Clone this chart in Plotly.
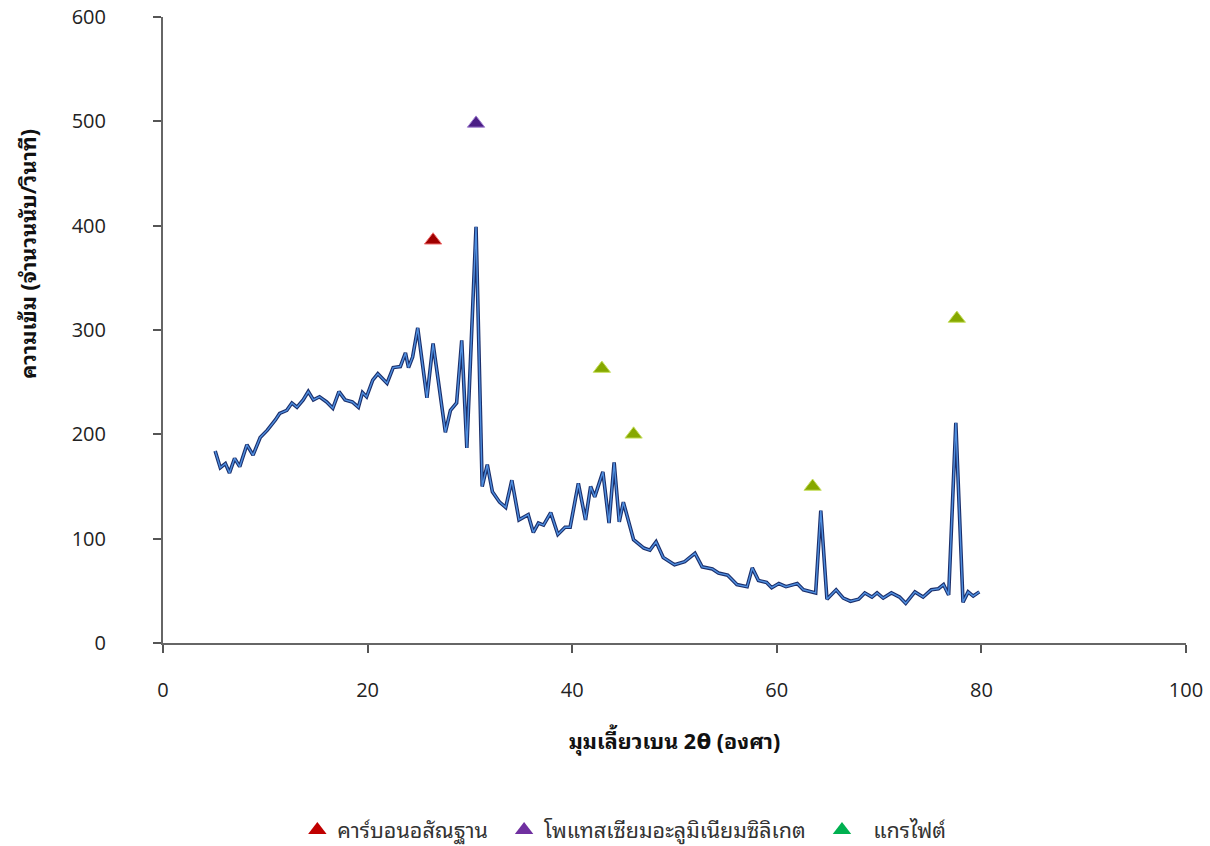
import plotly.graph_objects as go

two_theta = [5.1, 5.6, 6.1, 6.5, 7.0, 7.5, 8.2, 8.8, 9.5, 10.2, 11.0, 11.4, 12.1, 12.6, 13.1, 13.7,
             14.2, 14.7, 15.3, 16.0, 16.6, 17.2, 17.8, 18.5, 19.1, 19.5, 19.9, 20.5, 21.0, 21.9,
             22.5, 23.2, 23.7, 24.0, 24.4, 24.9, 25.8, 26.4, 26.9, 27.6, 28.1, 28.7, 29.2, 29.7,
             30.6, 31.2, 31.7, 32.2, 32.9, 33.5, 34.1, 34.8, 35.7, 36.2, 36.7, 37.2, 37.9, 38.6,
             39.3, 39.8, 40.6, 41.3, 41.8, 42.2, 43.0, 43.6, 44.1, 44.6, 45.0, 45.5, 46.0, 47.0,
             47.6, 48.2, 48.9, 50.0, 51.0, 52.0, 52.7, 53.7, 54.3, 55.2, 56.1, 57.1, 57.6, 58.2,
             59.0, 59.5, 60.2, 60.9, 62.0, 62.6, 63.8, 64.3, 64.9, 65.8, 66.5, 67.2, 68.0, 68.6,
             69.3, 69.8, 70.4, 71.2, 72.0, 72.6, 73.5, 74.3, 75.1, 75.8, 76.3, 76.8, 77.5, 78.2,
             78.7, 79.2, 79.8]
intensity = [184, 168, 172, 163, 177, 169, 190, 180, 197, 204, 214, 220, 223, 230, 226, 233,
             241, 233, 236, 231, 225, 241, 233, 231, 226, 240, 236, 252, 258, 249,
             264, 265, 278, 264, 274, 302, 235, 287, 252, 202, 223, 230, 290, 187,
             399, 150, 171, 145, 135, 130, 156, 118, 123, 106, 115, 113, 125, 104,
             111, 111, 153, 118, 150, 140, 164, 115, 173, 116, 135, 118, 99, 91,
             89, 97, 82, 75, 78, 86, 73, 71, 67, 65, 56, 54, 72, 60,
             58, 53, 57, 54, 57, 51, 48, 127, 42, 51, 43, 40, 42, 48,
             44, 48, 43, 48, 44, 38, 49, 44, 51, 52, 56, 46, 211, 39,
             49, 45, 49]

phase_names = ["คาร์บอนอสัณฐาน", "โพแทสเซียมอะลูมิเนียมซิลิเกต", "แกรไฟต์"]
legend_colors = ["#C00000", "#7030A0", "#00B050"]
plot_colors = ["#A00000", "#4B1E86", "#86A800"]
outline_colors = ["#F07070", "#A080D0", "#C8E060"]
phase_x = [[26.4], [30.6], [42.9, 46.0, 63.5, 77.6]]
phase_y = [[386], [498], [263, 200, 150, 311]]

x_title = "มุมเลี้ยวเบน 2<b>θ</b> (องศา)"
y_title = "ความเข้ม (จำนวนนับ/วินาที)"

thai_font = ("Noto Sans Thai Looped, Tahoma, Loma, Garuda, Norasi, Leelawadee UI, "
             "Noto Sans Thai, DejaVu Sans, sans-serif")
pad = "\u00a0\u00a0"
legend_labels = [phase_names[0] + pad, phase_names[1] + pad, "\u00a0\u00a0" + phase_names[2]]

fig = go.Figure()
fig.add_trace(go.Scatter(x=two_theta, y=intensity, mode="lines",
                         line=dict(color="#1B2F6B", width=3.6), showlegend=False, hoverinfo="skip"))
fig.add_trace(go.Scatter(x=two_theta, y=intensity, mode="lines",
                         line=dict(color="#4F8FE0", width=1.4), showlegend=False))

for lab, xs, ys, pc, oc, lc in zip(legend_labels, phase_x, phase_y, plot_colors, outline_colors, legend_colors):
    fig.add_trace(go.Scatter(x=xs, y=ys, mode="markers", showlegend=False,
                             marker=dict(symbol="triangle-up", size=15, color=pc,
                                         line=dict(color=oc, width=1))))
    fig.add_trace(go.Scatter(x=[None], y=[None], mode="markers", name=lab,
                             marker=dict(symbol="triangle-up", size=20, color=lc)))

axis_common = dict(showgrid=False, zeroline=False, showline=True, linecolor="#666666", linewidth=2,
                   ticks="outside", ticklen=8, tickwidth=2, tickcolor="#555555", automargin=False,
                   tickfont=dict(family="Open Sans, DejaVu Sans, sans-serif", size=20, color="#222222"))

fig.update_layout(
    width=1210, height=846,
    margin=dict(l=163, r=24, t=17, b=203),
    paper_bgcolor="white", plot_bgcolor="white",
    xaxis=dict(range=[0, 100], tickvals=[0, 20, 40, 60, 80, 100], ticklabelstandoff=20,
               title=dict(text=x_title, standoff=32,
                          font=dict(family=thai_font, size=21.5, color="#111111", weight="bold")),
               **axis_common),
    yaxis=dict(range=[0, 600], tickvals=[0, 100, 200, 300, 400, 500, 600], ticklabelstandoff=43,
               **axis_common),
    legend=dict(orientation="h", xref="container", x=0.516, xanchor="center",
                yref="container", y=16 / 846, yanchor="middle",
                font=dict(family=thai_font, size=21.5, color="#333333"), itemwidth=30,
                traceorder="normal"),
    showlegend=True,
    annotations=[dict(text=y_title, textangle=-90, xref="paper", yref="paper",
                      x=(26 - 163) / 1023, y=(643 - 254) / 626, xanchor="center", yanchor="middle",
                      showarrow=False,
                      font=dict(family=thai_font, size=21.5, color="#111111", weight="bold"))],
)

fig.write_html("out.html", post_script="document.body.style.margin='0';",
               config={"displayModeBar": False})
